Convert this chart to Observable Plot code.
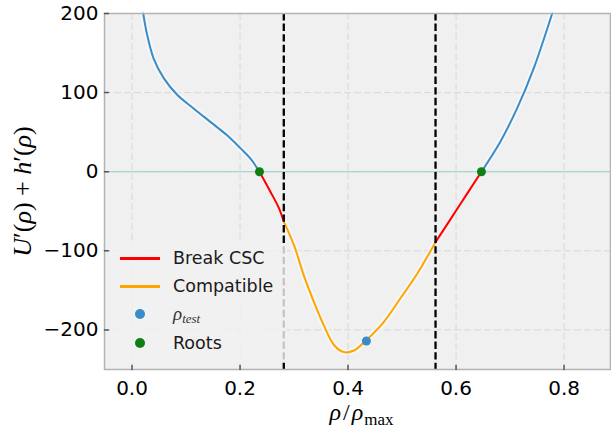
<!DOCTYPE html>
<html>
<head>
<meta charset="utf-8">
<script src="https://cdn.jsdelivr.net/npm/d3@7"></script>
<script src="https://cdn.jsdelivr.net/npm/@observablehq/plot@0.6"></script>
<style>
  body { margin: 0; background: #ffffff; }
  #wrap { position: relative; width: 611px; height: 429px; }
  #legend { position: absolute; left: 110px; top: 243px; width: 177px; height: 119px;
            background: rgba(240,240,240,0.82); font-family: "DejaVu Sans", sans-serif;
            font-size: 17.5px; color: #1a1a1a; }
  .row { position: absolute; left: 0; height: 24px; width: 177px; }
  .sw { position: absolute; left: 10px; top: 10px; width: 40px; height: 3px; }
  .dt { position: absolute; left: 25px; top: 6px; width: 10px; height: 10px; border-radius: 50%; }
  .lb { position: absolute; left: 63px; top: 0; line-height: 22px; white-space: nowrap; }
  .math { font-family: "Liberation Serif", serif; font-style: italic; font-size: 19px; color: #333; }
  .math sub { font-size: 13px; vertical-align: -3px; }
</style>
</head>
<body>
<div id="wrap"></div>
<script>
// ---- data ----
const blueLeftX  = [0.0207, 0.028, 0.040, 0.059, 0.084, 0.114, 0.145, 0.176, 0.201, 0.219, 0.236];
const blueLeftY  = [200, 173, 143, 118, 97, 80, 63, 46, 29.5, 16.8, 0];
const redLeftX   = [0.236, 0.256, 0.272, 0.281];
const redLeftY   = [0, -25, -46, -63];
const orangeX    = [0.281, 0.300, 0.318, 0.337, 0.355, 0.374, 0.392, 0.411, 0.432, 0.466, 0.497, 0.528, 0.562];
const orangeY    = [-63, -93, -131, -165, -194, -219, -228, -226, -214, -190, -160, -129, -89];
const redRightX  = [0.562, 0.605, 0.647];
const redRightY  = [-89, -44, 0];
const blueRightX = [0.647, 0.682, 0.713, 0.744, 0.769, 0.778];
const blueRightY = [0, 38, 80, 131, 181, 200];
const dashedX    = [0.281, 0.562];
const testX      = [0.434];
const testY      = [-214];
const rootX      = [0.236, 0.647];
const rootY      = [0, 0];
const xTicks     = [0.0, 0.2, 0.4, 0.6, 0.8];
const yTicks     = [-200, -100, 0, 100, 200];
const yLabel     = ["U′(ρ) + h′(ρ)"];
const xLabel     = ["ρ/ρmax"];
const legendItems = [
  {label: "Break CSC", kind: "line", color: "#ff0000"},
  {label: "Compatible", kind: "line", color: "#ffa500"},
  {label: "ρtest", kind: "dot", color: "#3a8cc8"},
  {label: "Roots", kind: "dot", color: "#0f7f14"}
];

const seg = (xs, ys) => xs.map((x, i) => ({x, y: ys[i]}));
const blueL = seg(blueLeftX, blueLeftY);
const blueR = seg(blueRightX, blueRightY);
const redL = seg(redLeftX, redLeftY);
const redR = seg(redRightX, redRightY);
const orange = seg(orangeX, orangeY);
const tests = seg(testX, testY);
const roots = seg(rootX, rootY);

const tickShape = {draw(ctx, l) { ctx.moveTo(0, 0); ctx.lineTo(0, -l); }};
const lineOpts = (c) => ({x: "x", y: "y", stroke: c, strokeWidth: 2, curve: "catmull-rom"});
const haloOpts = {x: "x", y: "y", stroke: "#ffffff", strokeOpacity: 0.45, strokeWidth: 6, curve: "catmull-rom"};

const plot = Plot.plot({
  width: 611, height: 429,
  marginLeft: 104, marginRight: 1, marginTop: 13, marginBottom: 60,
  x: {domain: [-0.051, 0.886]},
  y: {domain: [-250, 200]},
  style: {fontFamily: "DejaVu Sans, sans-serif", background: "transparent", color: "#000"},
  marks: [
    Plot.frame({fill: "#f0f0f0"}),
    Plot.gridX(xTicks, {stroke: "#d8d8d8", strokeOpacity: 1, strokeDasharray: "7,3"}),
    Plot.gridY(yTicks, {stroke: "#d8d8d8", strokeOpacity: 1, strokeDasharray: "7,3"}),
    Plot.ruleY([0], {stroke: "#a4d6cb", strokeWidth: 1.3}),
    Plot.line(blueL, haloOpts), Plot.line(blueR, haloOpts), Plot.line(orange, haloOpts),
    Plot.line(blueL, lineOpts("#3a8cc8")),
    Plot.line(redL, lineOpts("#ff0000")),
    Plot.line(orange, lineOpts("#ffa500")),
    Plot.line(redR, lineOpts("#ff0000")),
    Plot.line(blueR, lineOpts("#3a8cc8")),
    Plot.ruleX(dashedX, {stroke: "#000", strokeWidth: 2.3, strokeDasharray: "7.4,3.2"}),
    Plot.dot(tests, {x: "x", y: "y", r: 4.5, fill: "#3a8cc8"}),
    Plot.dot(roots, {x: "x", y: "y", r: 4.5, fill: "#0f7f14"}),
    Plot.frame({stroke: "#b3b3b3", strokeWidth: 1.5}),
    Plot.vector(xTicks, {x: d => d, frameAnchor: "bottom", length: 4, anchor: "start", shape: tickShape, stroke: "#555"}),
    Plot.vector(yTicks, {y: d => d, frameAnchor: "left", length: 4, rotate: 90, anchor: "start", shape: tickShape, stroke: "#555"}),
    Plot.axisX(xTicks, {tickSize: 0, tickPadding: 11, fontSize: 20, tickFormat: d3.format(".1f"), label: null}),
    Plot.axisY(yTicks, {tickSize: 0, tickPadding: 6, fontSize: 20, tickFormat: d3.format("d"), label: null}),
    Plot.text(yLabel, {frameAnchor: "left", dx: -82, rotate: -90, textAnchor: "middle", text: d => d, fontSize: 26, fontFamily: "Liberation Serif, serif", fill: "#000"}),
    Plot.text(xLabel, {frameAnchor: "bottom", dy: 50, dx: 4, textAnchor: "middle", text: d => d, fontSize: 24, fontFamily: "Liberation Serif, serif", fill: "#000"})
  ]
});

// rich math formatting of axis labels (kept as real text)
d3.select(plot).selectAll("text").each(function() {
  const t = d3.select(this);
  const s = this.textContent;
  if (s === yLabel[0]) {
    t.text(null);
    [["U", 1], ["′(", 0], ["ρ", 1], [") + ", 0], ["h", 1], ["′(", 0], ["ρ", 1], [")", 0]].forEach(([p, it]) => {
      t.append("tspan").attr("font-style", it ? "italic" : "normal").text(p);
    });
  } else if (s === xLabel[0]) {
    t.text(null);
    t.append("tspan").attr("font-style", "italic").text("ρ");
    t.append("tspan").attr("dx", 2).text("/");
    t.append("tspan").attr("dx", 2).attr("font-style", "italic").text("ρ");
    t.append("tspan").attr("dx", 1).attr("font-size", 17).attr("dy", 5).text("max");
  }
});

const wrap = document.getElementById("wrap");
wrap.appendChild(plot);

// legend (HTML overlay inside the axes)
const legend = document.createElement("div");
legend.id = "legend";
const rowTops = [4, 32, 60, 89];
legendItems.forEach((it, i) => {
  const row = document.createElement("div");
  row.className = "row";
  row.style.top = rowTops[i] + "px";
  const sw = document.createElement("div");
  sw.className = it.kind === "line" ? "sw" : "dt";
  sw.style.background = it.color;
  row.appendChild(sw);
  const lb = document.createElement("div");
  lb.className = "lb";
  if (it.label === "ρtest") {
    lb.innerHTML = '<span class="math">ρ<sub>test</sub></span>';
  } else {
    lb.textContent = it.label;
  }
  row.appendChild(lb);
  legend.appendChild(row);
});
wrap.appendChild(legend);
</script>
</body>
</html>
